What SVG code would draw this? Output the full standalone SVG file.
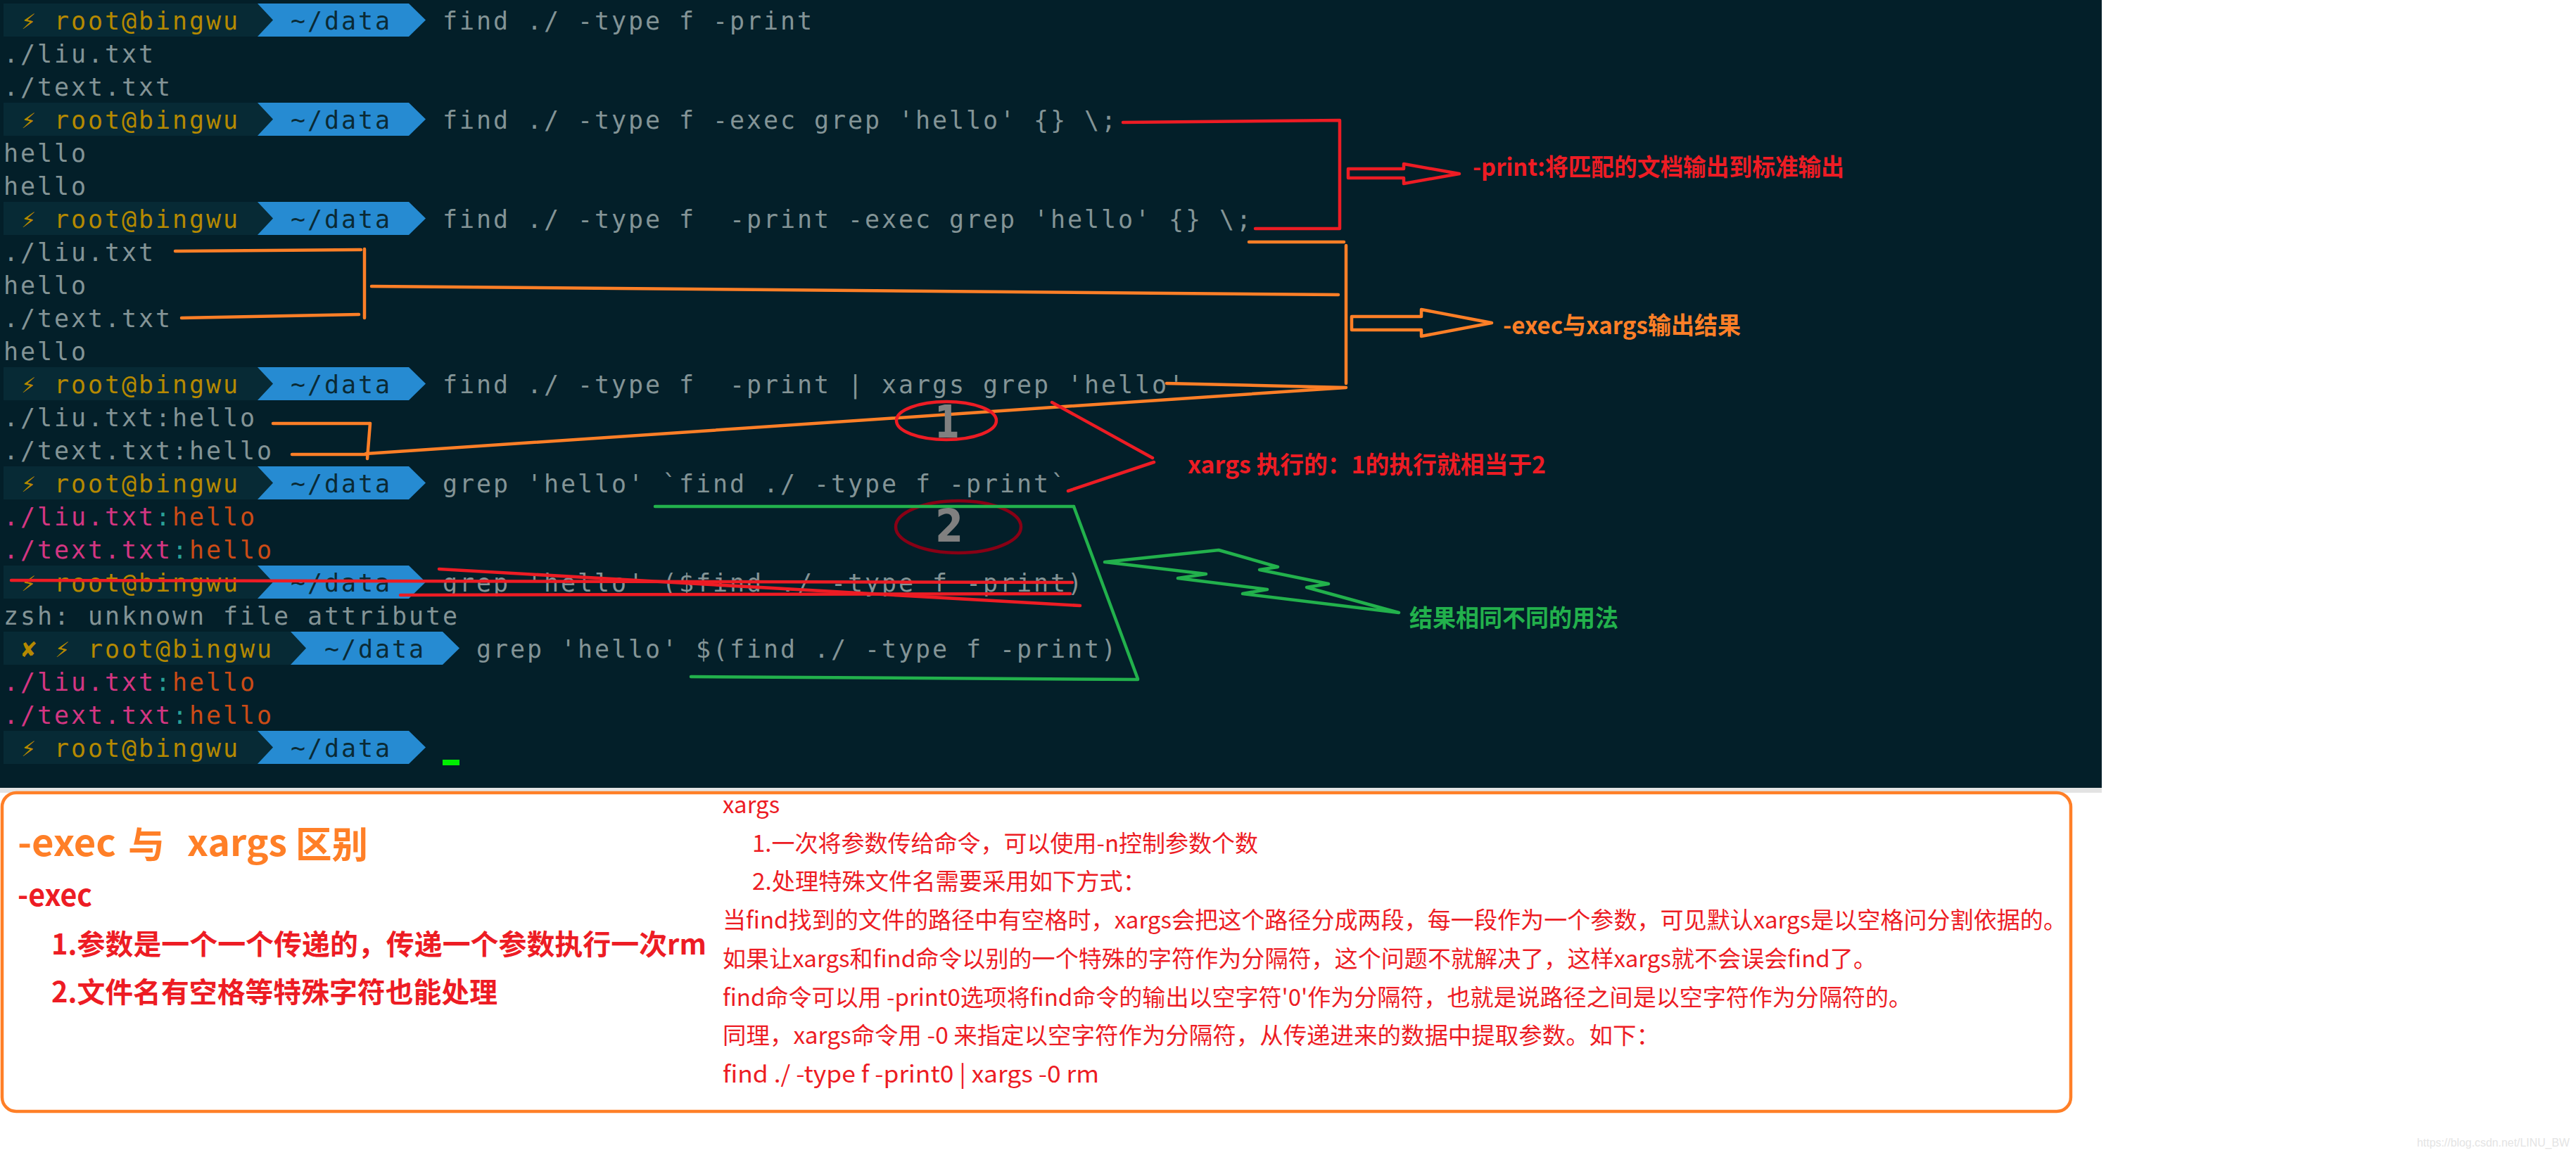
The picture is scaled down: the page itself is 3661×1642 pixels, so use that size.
<svg xmlns="http://www.w3.org/2000/svg" xmlns:xlink="http://www.w3.org/1999/xlink" width="3661" height="1642" viewBox="0 0 3661 1642">
<style>
.t{font-family:"DejaVu Sans Mono","Liberation Mono",monospace;font-size:35px;letter-spacing:2.93px;fill:#839496;white-space:pre}
.y{fill:#b58900}
.dk{fill:#0a2a35}
.mg{fill:#d33682}
.cy{fill:#2aa198}
.or{fill:#cb4b16}
.sym{font-family:"DejaVu Sans","DejaVu Sans Mono","Noto Sans",sans-serif;font-size:30px;fill:#b58900}
.lbl{font-family:"Noto Sans CJK SC","Noto Sans",sans-serif;font-weight:bold;font-size:34px}
.num{font-family:"DejaVu Sans",sans-serif;font-weight:bold;font-size:64px;fill:#808080;text-anchor:middle}
.bx{font-family:"Noto Sans CJK SC","Noto Sans",sans-serif;font-size:33px;fill:#ed1c24;white-space:pre}
.bb{font-family:"Noto Sans CJK SC","Noto Sans",sans-serif;font-weight:bold;fill:#ed1c24;white-space:pre}
.ln{fill:none;stroke-width:4.5;stroke-linecap:round;stroke-linejoin:round}
.r{stroke:#ed1c24}
.o{stroke:#ff7f27}
.g{stroke:#22b14c}
</style>
<defs>
<g id="pr">
<rect x="5" y="0" width="361" height="47" fill="#072a35"/>
<polygon points="366,0 581,0 605,23.5 581,47 366,47" fill="#268bd2"/>
<polygon points="366,0 388,23.5 366,47" fill="#072a35"/>
<text class="sym" x="30" y="36">⚡</text>
<text class="t y" x="77" y="36.5">root@bingwu</text>
<text class="t dk" x="413" y="36.5">~/data</text>
</g>
</defs>
<rect width="3661" height="1642" fill="#ffffff"/>
<g id="terminal">
<rect x="0" y="0" width="2987" height="1120" fill="#031f29"/>
<rect x="0" y="1120" width="2987" height="7" fill="#e3e3e3"/>
<use xlink:href="#pr" y="5"/>
<text class="t" x="629" y="41.5">find ./ -type f -print</text>
<text class="t" x="5" y="88.5">./liu.txt</text>
<text class="t" x="5" y="135.5">./text.txt</text>
<use xlink:href="#pr" y="146"/>
<text class="t" x="629" y="182.5">find ./ -type f -exec grep 'hello' {} \;</text>
<text class="t" x="5" y="229.5">hello</text>
<text class="t" x="5" y="276.5">hello</text>
<use xlink:href="#pr" y="287"/>
<text class="t" x="629" y="323.5">find ./ -type f  -print -exec grep 'hello' {} \;</text>
<text class="t" x="5" y="370.5">./liu.txt</text>
<text class="t" x="5" y="417.5">hello</text>
<text class="t" x="5" y="464.5">./text.txt</text>
<text class="t" x="5" y="511.5">hello</text>
<use xlink:href="#pr" y="522"/>
<text class="t" x="629" y="558.5">find ./ -type f  -print | xargs grep 'hello'</text>
<text class="t" x="5" y="605.5">./liu.txt:hello</text>
<text class="t" x="5" y="652.5">./text.txt:hello</text>
<use xlink:href="#pr" y="663"/>
<text class="t" x="629" y="699.5">grep 'hello' `find ./ -type f -print`</text>
<text class="t" x="5" y="746.5"><tspan class="mg">./liu.txt</tspan><tspan class="cy">:</tspan><tspan class="or">hello</tspan></text>
<text class="t" x="5" y="793.5"><tspan class="mg">./text.txt</tspan><tspan class="cy">:</tspan><tspan class="or">hello</tspan></text>
<use xlink:href="#pr" y="804"/>
<text class="t" x="629" y="840.5">grep 'hello' ($find ./ -type f -print)</text>
<text class="t" x="5" y="887.5">zsh: unknown file attribute</text>
<g id="prompt-fail">
<rect x="5" y="898" width="408" height="47" fill="#072a35"/>
<polygon points="413,898 629,898 653,921.5 629,945 413,945" fill="#268bd2"/>
<polygon points="413,898 435,921.5 413,945" fill="#072a35"/>
<text class="sym" x="28" y="934">✘</text>
<text class="sym" x="78" y="934">⚡</text>
<text class="t y" x="125" y="934.5">root@bingwu</text>
<text class="t dk" x="461" y="934.5">~/data</text>
</g>
<text class="t" x="677" y="934.5">grep 'hello' $(find ./ -type f -print)</text>
<text class="t" x="5" y="981.5"><tspan class="mg">./liu.txt</tspan><tspan class="cy">:</tspan><tspan class="or">hello</tspan></text>
<text class="t" x="5" y="1028.5"><tspan class="mg">./text.txt</tspan><tspan class="cy">:</tspan><tspan class="or">hello</tspan></text>
<use xlink:href="#pr" y="1039"/>
<rect x="629" y="1080" width="24" height="8" fill="#00ee00"/>
</g>
<g id="connectors">
<polyline class="ln r" points="1596,174 1904,171 1904,325 1784,325"/>
<polygon class="ln r" stroke-width="3.5" points="1916,240 1995,240 1995,233 2074,247 1995,261 1995,253 1916,253"/>
<polyline class="ln o" points="249,357 513,355"/>
<polyline class="ln o" stroke-width="3" points="518,354 518,452"/>
<polyline class="ln o" points="258,452 510,447"/>
<polyline class="ln o" points="528,407 1902,419"/>
<polyline class="ln o" points="1775,344 1910,344"/>
<polyline class="ln o" stroke-width="3" points="1913,349 1913,545"/>
<polyline class="ln o" points="1658,545 1913,551 520,645"/>
<polyline class="ln o" points="388,602 526,602"/>
<polyline class="ln o" stroke-width="3" points="526,602 522,652"/>
<polyline class="ln o" points="415,646 520,646"/>
<polygon class="ln o" stroke-width="3.5" points="1921,450 2020,450 2020,440 2120,459 2020,478 2020,469 1921,469"/>
<ellipse class="ln r" cx="1345" cy="598" rx="71" ry="27" stroke-width="4"/>
<ellipse class="ln" cx="1362" cy="749" rx="89" ry="37" stroke="#880015" stroke-width="4"/>
<polyline class="ln r" stroke-width="4" points="1495,572 1638,651"/>
<polyline class="ln r" stroke-width="4" points="1640,657 1518,698"/>
<polyline class="ln g" points="931,720 1526,720"/>
<polyline class="ln g" stroke-width="3.5" points="1526,720 1617,965"/>
<polyline class="ln g" points="982,962 1617,966"/>
<polygon class="ln g" points="1570,799 1732,782 1816,806 1790,810 1888,830 1857,835 1988,871 1766,844 1801,838 1674,822 1714,816"/>
<polyline class="ln r" points="16,825 1524,828"/>
<polyline class="ln r" points="624,809 1535,861"/>
<polyline class="ln r" points="569,846 1521,844"/>
</g>
<g id="labels">
<text class="num" transform="translate(1346,622) scale(0.8,1)">1</text>
<text class="num" transform="translate(1349,770) scale(0.9,1)">2</text>
<text class="lbl" x="2093" y="250" fill="#ed1c24" textLength="528" lengthAdjust="spacingAndGlyphs">-print:将匹配的文档输出到标准输出</text>
<text class="lbl" x="2136" y="475" fill="#ff7f27" textLength="338" lengthAdjust="spacingAndGlyphs">-exec与xargs输出结果</text>
<text class="lbl" x="1688" y="673" fill="#ed1c24" textLength="509" lengthAdjust="spacingAndGlyphs">xargs 执行的：1的执行就相当于2</text>
<text class="lbl" x="2003" y="891" fill="#22b14c" textLength="297" lengthAdjust="spacingAndGlyphs">结果相同不同的用法</text>
</g>
<g id="summary-box">
<rect x="3" y="1127" width="2940" height="453" rx="20" ry="20" fill="#ffffff" stroke="#ff7f27" stroke-width="4.5"/>
<g font-family="Noto Sans CJK SC, Noto Sans, sans-serif" font-weight="bold" font-size="52" fill="#ff7f27">
<text x="25" y="1217" textLength="140" lengthAdjust="spacingAndGlyphs">-exec</text>
<text x="182" y="1220">与</text>
<text x="266" y="1217" textLength="142" lengthAdjust="spacingAndGlyphs">xargs</text>
<text x="420" y="1220" textLength="103" lengthAdjust="spacingAndGlyphs">区别</text>
</g>
<text class="bb" x="25" y="1288" font-size="42" textLength="106" lengthAdjust="spacingAndGlyphs">-exec</text>
<text class="bb" x="73" y="1357" font-size="40" textLength="931" lengthAdjust="spacingAndGlyphs">1.参数是一个一个传递的，传递一个参数执行一次rm</text>
<text class="bb" x="73" y="1425" font-size="40" textLength="634" lengthAdjust="spacingAndGlyphs">2.文件名有空格等特殊字符也能处理</text>
<text class="bx" x="1027" y="1156">xargs</text>
<text class="bx" x="1069" y="1211" textLength="719" lengthAdjust="spacingAndGlyphs">1.一次将参数传给命令，可以使用-n控制参数个数</text>
<text class="bx" x="1069" y="1265" textLength="560" lengthAdjust="spacingAndGlyphs">2.处理特殊文件名需要采用如下方式：</text>
<text class="bx" x="1027" y="1320" textLength="1910" lengthAdjust="spacingAndGlyphs">当find找到的文件的路径中有空格时，xargs会把这个路径分成两段，每一段作为一个参数，可见默认xargs是以空格问分割依据的。</text>
<text class="bx" x="1027" y="1375" textLength="1640" lengthAdjust="spacingAndGlyphs">如果让xargs和find命令以别的一个特殊的字符作为分隔符，这个问题不就解决了，这样xargs就不会误会find了。</text>
<text class="bx" x="1027" y="1430" textLength="1690" lengthAdjust="spacingAndGlyphs">find命令可以用 -print0选项将find命令的输出以空字符'0'作为分隔符，也就是说路径之间是以空字符作为分隔符的。</text>
<text class="bx" x="1027" y="1484" textLength="1332" lengthAdjust="spacingAndGlyphs">同理，xargs命令用 -0 来指定以空字符作为分隔符，从传递进来的数据中提取参数。如下：</text>
<text class="bx" x="1027" y="1539" textLength="535" lengthAdjust="spacingAndGlyphs">find ./ -type f -print0 | xargs -0 rm</text>
</g>
<text x="3435" y="1630" font-family="Liberation Sans, Arial, sans-serif" font-size="17" fill="#e4e4e4" textLength="217" lengthAdjust="spacingAndGlyphs">https://blog.csdn.net/LINU_BW</text>
</svg>
